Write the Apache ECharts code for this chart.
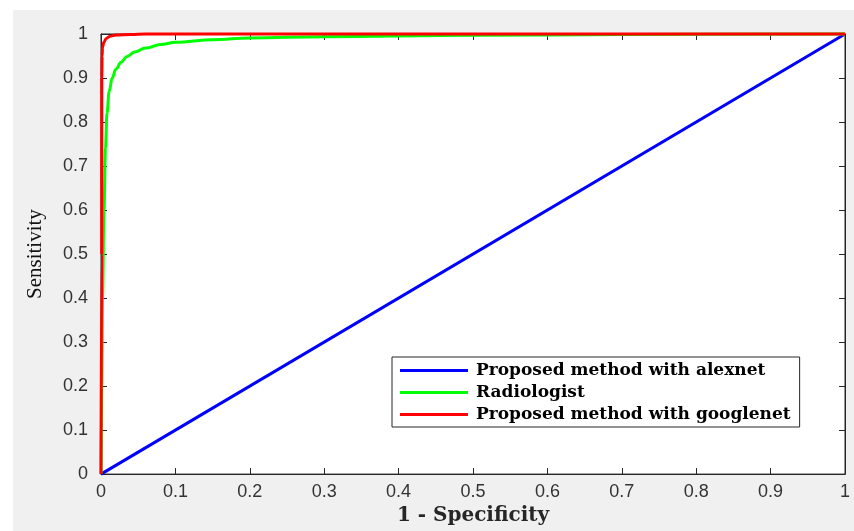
<!DOCTYPE html>
<html>
<head>
<meta charset="utf-8">
<script src="https://cdn.jsdelivr.net/npm/echarts@6/dist/echarts.min.js"></script>
<style>
    html, body { margin: 0; padding: 0; background: #fff; }
    #chart { position: absolute; left: 13px; top: 10px; width: 841px; height: 521px; background: #f0f0f0; }
</style>
</head>
<body>
<div id="chart"></div>
<script>
// ROC points, [1 - specificity, sensitivity]
var alexnetRoc = [[0, 0], [1, 1]];
var radiologistRoc = [
    [0, 0], [0.001, 0.2], [0.002, 0.4], [0.004, 0.6], [0.006, 0.74], [0.008, 0.82],
    [0.011, 0.87], [0.015, 0.9], [0.02, 0.92], [0.027, 0.936], [0.035, 0.949],
    [0.045, 0.959], [0.06, 0.968], [0.08, 0.976], [0.1, 0.981], [0.15, 0.987],
    [0.2, 0.991], [0.3, 0.994], [0.5, 0.997], [0.7, 0.999], [1, 1]
];
var googlenetRoc = [
    [0, 0], [0.001, 0.5], [0.001, 0.9], [0.0015, 0.95], [0.002, 0.97], [0.004, 0.982],
    [0.007, 0.99], [0.012, 0.995], [0.02, 0.998], [0.04, 0.999], [0.06, 1], [1, 1]
];
var seriesNames = ['Proposed method with alexnet', 'Radiologist', 'Proposed method with googlenet'];
var seriesColors = ['#0000ff', '#00ff00', '#ff0000'];
var xTitle = '1 - Specificity';
var yTitle = 'Sensitivity';

var axisColor = '#262626';
var tickFont = 'Liberation Sans, Arial, sans-serif';
var serifFont = 'Liberation Serif, Times New Roman, serif';
var wideSerif = 'DejaVu Serif, serif';

function fmt(v) {
    return String(Math.round(v * 10) / 10);
}

// shared look for the box axes
function boxAxis(type, pos, showLabel) {
    return {
        type: 'value',
        position: pos,
        min: 0,
        max: 1,
        interval: 0.1,
        splitLine: { show: false },
        axisLine: { show: true, onZero: false, lineStyle: { color: axisColor, width: 1 } },
        axisTick: { show: true, inside: true, length: 6, lineStyle: { color: axisColor } },
        axisLabel: {
            show: showLabel,
            color: '#333',
            fontFamily: tickFont,
            fontSize: 18,
            margin: type === 'x' ? 9 : 13,
            formatter: fmt
        }
    };
}

var xMain = boxAxis('x', 'bottom', true);
xMain.name = xTitle;
xMain.nameLocation = 'middle';
xMain.nameGap = 31;
xMain.nameTextStyle = { color: axisColor, fontFamily: wideSerif, fontWeight: 'bold', fontSize: 20 };

var yMain = boxAxis('y', 'left', true);
yMain.name = yTitle;
yMain.nameLocation = 'middle';
yMain.nameGap = 55;
yMain.nameTextStyle = { color: '#111', fontFamily: serifFont, fontWeight: 'normal', fontSize: 21 };

var rocData = [alexnetRoc, radiologistRoc, googlenetRoc];
var series = [];
for (var i = 0; i < rocData.length; i++) {
    series.push({
        name: seriesNames[i],
        type: 'line',
        data: rocData[i],
        xAxisIndex: 0,
        yAxisIndex: 0,
        showSymbol: false,
        symbol: 'none',
        clip: false,
        smooth: i === 0 ? false : 0.4,
        smoothMonotone: 'x',
        color: seriesColors[i],
        lineStyle: { color: seriesColors[i], width: 3 },
        animation: false
    });
}

var option = {
    animation: false,
    grid: {
        left: 88,
        right: 9,
        top: 24,
        bottom: 54,
        show: true,
        backgroundColor: '#fff',
        borderColor: axisColor,
        borderWidth: 1
    },
    legend: {
        orient: 'vertical',
        left: 379,
        top: 347,
        data: seriesNames,
        icon: 'rect',
        itemWidth: 68,
        itemHeight: 3,
        itemGap: 5,
        padding: [5, 9, 4, 8],
        backgroundColor: '#fff',
        borderColor: axisColor,
        borderWidth: 1,
        textStyle: { color: '#000', fontFamily: wideSerif, fontWeight: 'bold', fontSize: 17, padding: [0, 0, 0, 3] }
    },
    xAxis: [xMain, boxAxis('x', 'top', false)],
    yAxis: [yMain, boxAxis('y', 'right', false)],
    series: series
};

var myChart = echarts.init(document.getElementById('chart'));
myChart.setOption(option);
</script>
</body>
</html>
